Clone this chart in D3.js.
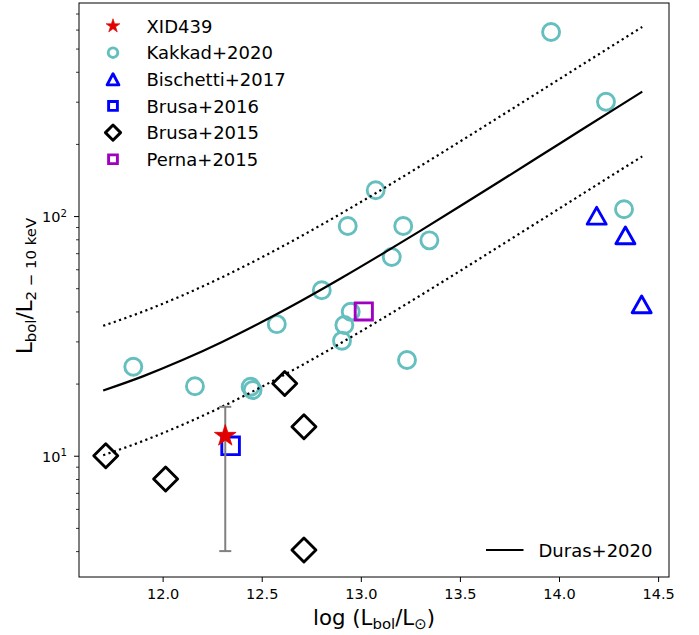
<!DOCTYPE html>
<html><head><meta charset="utf-8">
<script src="https://cdn.jsdelivr.net/npm/d3@7"></script>
<style>
html,body{margin:0;padding:0;background:#fff;}
text{font-family:"DejaVu Sans",sans-serif;fill:#000;}
</style></head>
<body>
<svg id="c" width="699" height="635"></svg>
<script>
// ---- data ----
const kakkadX = [13.96, 14.237, 14.328, 13.075, 12.934, 13.214, 13.346, 13.156, 12.803, 12.949, 12.917, 12.905, 12.576, 13.233, 11.852, 12.163, 12.444, 12.454];
const kakkadY = [586, 300, 106.7, 128.1, 90.9, 90.9, 79.2, 67.5, 49.0, 39.9, 35.1, 30.2, 35.4, 25.1, 23.5, 19.5, 19.4, 18.8];
const bischettiX = [14.19, 14.335, 14.417];
const bischettiY = [100.3, 83.1, 42.8];
const brusa16X = [12.343];
const brusa16Y = [11.0];
const brusa15X = [11.713, 12.015, 12.616, 12.713, 12.713];
const brusa15Y = [10.0, 8.0, 20.0, 13.2, 4.04];
const pernaX = [13.015];
const pernaY = [40.0];
const xidX = [12.316];
const xidY = [12.1];
const xidLo = [4.0];
const xidHi = [16.0];
// Duras+2020 relation
const durasX = [11.7, 11.9, 12.1, 12.3, 12.5, 12.7, 12.9, 13.1, 13.3, 13.5, 13.7, 13.9, 14.1, 14.3, 14.42];
const durasY = [18.71, 21.44, 25.06, 29.83, 36.11, 44.31, 55.00, 68.86, 86.77, 109.83, 139.40, 177.17, 225.26, 286.30, 330.41];
const durasUp = [34.84, 39.92, 46.66, 55.55, 67.24, 82.51, 102.4, 128.2, 161.6, 204.5, 259.6, 329.9, 419.5, 533.1, 615.3];
const durasLo = [10.05, 11.51, 13.46, 16.02, 19.39, 23.80, 29.54, 36.98, 46.60, 58.98, 74.86, 95.15, 121.0, 153.8, 177.4];
const xTicks = [12.0, 12.5, 13.0, 13.5, 14.0, 14.5];
const yMajor = [10, 100];
const yMajorExp = ["1", "2"];
const yMinor = [4,5,6,7,8,9,20,30,40,50,60,70,80,90,200,300,400,500,600,700];
const legendNames = ["XID439", "Kakkad+2020", "Bischetti+2017", "Brusa+2016", "Brusa+2015", "Perna+2015"];

// ---- layout ----
const L = 79, R = 669, T = 3, B = 577;
const svg = d3.select("#c");
const x = d3.scaleLinear().domain([11.578, 14.555]).range([L, R]);
const y = d3.scaleLog().domain([3.119, 774.5]).range([B, T]);

const TEAL = "#66bfbf", BLUE = "#0000ff", PURPLE = "#a000c0", RED = "#e00000", GREY = "#808080";
const SW = 2.9;

function starPath(Ro){
  const ri = Ro*0.382; let p = [];
  for(let i=0;i<10;i++){
    const a = -Math.PI/2 + i*Math.PI/5;
    const rr = i%2===0 ? Ro : ri;
    p.push([rr*Math.cos(a), rr*Math.sin(a)]);
  }
  return "M" + p.map(d=>d[0].toFixed(2)+","+d[1].toFixed(2)).join("L") + "Z";
}
function triPath(w,h){ return `M0,${-h}L${w},${h}L${-w},${h}Z`; }
function sqPath(s){ return `M${-s},${-s}L${s},${-s}L${s},${s}L${-s},${s}Z`; }
function diaPath(s){ return `M0,${-s}L${s},0L0,${s}L${-s},0Z`; }

const plot = svg.append("g");

// Kakkad circles
plot.selectAll("circle.k").data(kakkadX.map((d,i)=>[d,kakkadY[i]])).enter()
  .append("circle").attr("cx",d=>x(d[0])).attr("cy",d=>y(d[1])).attr("r",8.5)
  .attr("fill","none").attr("stroke",TEAL).attr("stroke-width",SW);

// Duras lines
const line = d3.line().curve(d3.curveMonotoneX);
plot.append("path").attr("d", line(durasX.map((d,i)=>[x(d), y(durasY[i])])))
  .attr("fill","none").attr("stroke","#000").attr("stroke-width",2.2);
[durasUp, durasLo].forEach(arr=>{
  plot.append("path").attr("d", line(durasX.map((d,i)=>[x(d), y(arr[i])])))
    .attr("fill","none").attr("stroke","#000").attr("stroke-width",2.2)
    .attr("stroke-dasharray","2.2,3.4");
});

// Bischetti triangles
plot.selectAll("path.b").data(bischettiX.map((d,i)=>[d,bischettiY[i]])).enter()
  .append("path").attr("d",triPath(9.5,8.4))
  .attr("transform",d=>`translate(${x(d[0])},${y(d[1])})`)
  .attr("fill","none").attr("stroke",BLUE).attr("stroke-width",SW).attr("stroke-linejoin","round");

// Brusa 2015 diamonds
plot.selectAll("path.d").data(brusa15X.map((d,i)=>[d,brusa15Y[i]])).enter()
  .append("path").attr("d",diaPath(12))
  .attr("transform",d=>`translate(${x(d[0])},${y(d[1])})`)
  .attr("fill","none").attr("stroke","#000").attr("stroke-width",SW).attr("stroke-linejoin","round");

// Perna square
plot.selectAll("path.p").data(pernaX.map((d,i)=>[d,pernaY[i]])).enter()
  .append("path").attr("d",sqPath(8.6))
  .attr("transform",d=>`translate(${x(d[0])},${y(d[1])})`)
  .attr("fill","none").attr("stroke",PURPLE).attr("stroke-width",SW);

// Brusa 2016 square
plot.selectAll("path.s").data(brusa16X.map((d,i)=>[d,brusa16Y[i]])).enter()
  .append("path").attr("d",sqPath(8.8))
  .attr("transform",d=>`translate(${x(d[0])},${y(d[1])})`)
  .attr("fill","none").attr("stroke",BLUE).attr("stroke-width",SW);

// XID439 error bar + star
xidX.forEach((xv,i)=>{
  const g = plot.append("g").attr("stroke",GREY).attr("stroke-width",2);
  g.append("line").attr("x1",x(xv)).attr("x2",x(xv)).attr("y1",y(xidLo[i])).attr("y2",y(xidHi[i]));
  g.append("line").attr("x1",x(xv)-6).attr("x2",x(xv)+6).attr("y1",y(xidLo[i])).attr("y2",y(xidLo[i]));
  g.append("line").attr("x1",x(xv)-6).attr("x2",x(xv)+6).attr("y1",y(xidHi[i])).attr("y2",y(xidHi[i]));
  plot.append("path").attr("d",starPath(11.4))
    .attr("transform",`translate(${x(xv)},${y(xidY[i])})`)
    .attr("fill",RED).attr("stroke",RED).attr("stroke-width",0.8);
});

// ---- frame ----
svg.append("rect").attr("x",L).attr("y",T).attr("width",R-L).attr("height",B-T)
  .attr("fill","none").attr("stroke","#000").attr("stroke-width",1);

// x axis
const xa = svg.append("g").attr("transform",`translate(0,${B})`)
  .call(d3.axisBottom(x).tickValues(xTicks).tickFormat(d3.format(".1f")).tickSize(5).tickPadding(6.5));
xa.select(".domain").remove();
xa.selectAll("text").attr("font-size","14.5px").attr("font-family","DejaVu Sans").attr("fill","#000");

// y axis major + minor
const ya = svg.append("g").attr("transform",`translate(${L},0)`)
  .call(d3.axisLeft(y).tickValues(yMajor).tickFormat("").tickSize(5));
ya.select(".domain").remove();
const ym = svg.append("g").attr("transform",`translate(${L},0)`)
  .call(d3.axisLeft(y).tickValues(yMinor).tickFormat("").tickSize(3));
ym.select(".domain").remove();
ym.selectAll("line").attr("stroke-width",0.8);

yMajor.forEach((v,i)=>{
  const t = svg.append("text").attr("x",67).attr("y",y(v)+6).attr("text-anchor","end").attr("font-size","14.5px");
  t.append("tspan").text("10");
  t.append("tspan").attr("dy",-5.5).attr("font-size","10.2px").text(yMajorExp[i]);
});

// axis labels
const xl = svg.append("text").attr("x",(L+R)/2).attr("y",625).attr("text-anchor","middle").attr("font-size","21.3px");
xl.append("tspan").text("log (L");
xl.append("tspan").attr("dy",4).attr("font-size","14.9px").text("bol");
xl.append("tspan").attr("dy",-4).text("/L");
xl.append("tspan").attr("dy",4).attr("font-size","14.9px").text("⊙");
xl.append("tspan").attr("dy",-4).text(")");

const yl = svg.append("text").attr("transform",`translate(31.5,286) rotate(-90)`)
  .attr("text-anchor","middle").attr("font-size","21.3px");
yl.append("tspan").text("L");
yl.append("tspan").attr("dy",4).attr("font-size","14.9px").text("bol");
yl.append("tspan").attr("dy",-4).text("/L");
yl.append("tspan").attr("dy",4).attr("font-size","14.9px").text("2 − 10 keV");

// ---- legend (upper left) ----
const legY0 = 26, legDY = 26.65, legMX = 113, legTX = 146.5;
const lg = svg.append("g");
const legMarks = [
  g=>g.append("path").attr("d",starPath(7.3)).attr("fill",RED).attr("stroke",RED).attr("stroke-width",0.6),
  g=>g.append("circle").attr("r",4.8).attr("fill","none").attr("stroke",TEAL).attr("stroke-width",SW),
  g=>g.append("path").attr("d",triPath(5.9,5.6)).attr("fill","none").attr("stroke",BLUE).attr("stroke-width",SW).attr("stroke-linejoin","round"),
  g=>g.append("path").attr("d",sqPath(4.4)).attr("fill","none").attr("stroke",BLUE).attr("stroke-width",SW),
  g=>g.append("path").attr("d",diaPath(7.6)).attr("fill","none").attr("stroke","#000").attr("stroke-width",SW).attr("stroke-linejoin","round"),
  g=>g.append("path").attr("d",sqPath(4.4)).attr("fill","none").attr("stroke",PURPLE).attr("stroke-width",SW)
];
legendNames.forEach((n,i)=>{
  const cy = legY0 + i*legDY;
  const g = lg.append("g").attr("transform",`translate(${legMX},${cy})`);
  legMarks[i](g);
  lg.append("text").attr("x",legTX).attr("y",cy+6.8).attr("font-size","18px").text(n);
});

// ---- legend (lower right) ----
svg.append("line").attr("x1",486).attr("x2",523.5).attr("y1",550).attr("y2",550)
  .attr("stroke","#000").attr("stroke-width",2.2);
svg.append("text").attr("x",538.5).attr("y",556.8).attr("font-size","18px").text("Duras+2020");
</script>
</body></html>
